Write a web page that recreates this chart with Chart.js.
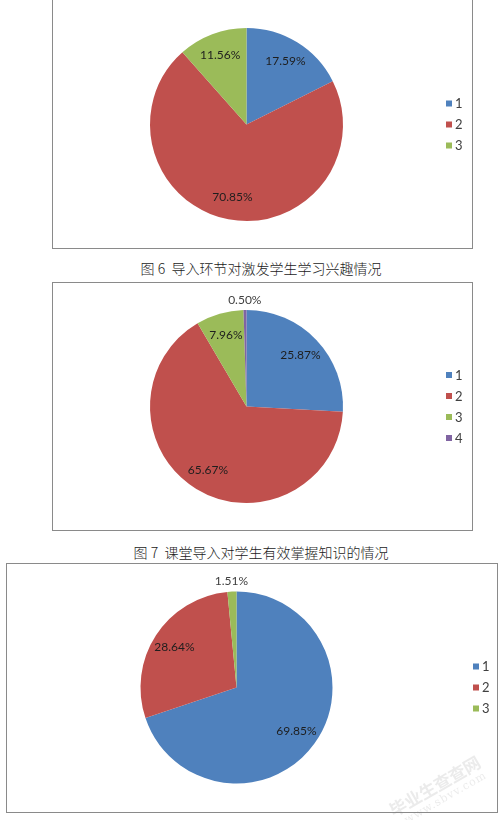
<!DOCTYPE html>
<html>
<head>
<meta charset="utf-8">
<script src="https://cdn.jsdelivr.net/npm/chart.js@4/dist/chart.umd.min.js"></script>
<style>
  html, body { margin: 0; padding: 0; background: #ffffff; }
  body { width: 501px; height: 820px; position: relative; overflow: hidden; }
  .box { position: absolute; border: 1px solid #8a8a8a; background: #fff; }
  .box canvas { display: block; }
  .cap { position: absolute; left: 61px; width: 400px; text-align: center;
         font-family: "Noto Sans CJK SC", sans-serif; font-weight: 300; font-size: 14px; line-height: 18px; color: #1a1a1a; white-space: pre; }
  .wm { position: absolute; color: rgba(130,130,130,0.16); font-family: "Noto Sans CJK SC", sans-serif;
        transform-origin: left top; white-space: nowrap; }
</style>
</head>
<body>
<div class="box" id="b1" style="left:52px; top:-1px; width:419px; height:248px;"><canvas id="c1"></canvas></div>
<div class="cap" id="cap1" style="top:259px;"></div>
<div class="box" id="b2" style="left:52px; top:282px; width:419px; height:247px;"><canvas id="c2"></canvas></div>
<div class="cap" id="cap2" style="top:543px;"></div>
<div class="box" id="b3" style="left:6px; top:563px; width:490px; height:248px;"><canvas id="c3"></canvas></div>
<div class="wm" style="left:384px; top:800px; transform: rotate(-30deg); font-size:17px; font-weight:bold; letter-spacing:0px;">毕业生查查网</div>
<div class="wm" style="left:402px; top:815px; transform: rotate(-30deg); font-size:11px; font-family:'DejaVu Serif',serif; letter-spacing:1px;">www.sbvv.com</div>
<script>
// ---- data ----
const categories1 = ['1', '2', '3'];
const values1 = [17.59, 70.85, 11.56];

const categories2 = ['1', '2', '3', '4'];
const values2 = [25.87, 65.67, 7.96, 0.50];

const categories3 = ['1', '2', '3'];
const values3 = [69.85, 28.64, 1.51];

const captions = ['图 6  导入环节对激发学生学习兴趣情况', '图 7  课堂导入对学生有效掌握知识的情况'];

const palette = ['#4F81BD', '#C0504D', '#9BBB59', '#8064A2'];

document.getElementById('cap1').textContent = captions[0];
document.getElementById('cap2').textContent = captions[1];

// percentage labels drawn from arc geometry
const pieLabels = {
  id: 'pieLabels',
  afterDatasetsDraw(chart) {
    const ctx = chart.ctx;
    const meta = chart.getDatasetMeta(0);
    const vals = chart.data.datasets[0].data;
    ctx.save();
    ctx.font = '12px Lato, "Liberation Sans", sans-serif';
    ctx.textAlign = 'center';
    ctx.textBaseline = 'middle';
    meta.data.forEach((arc, i) => {
      const p = arc.getProps(['x', 'y', 'startAngle', 'endAngle', 'outerRadius'], true);
      const mid = (p.startAngle + p.endAngle) / 2;
      const v = vals[i];
      const outside = v < 3;
      const d = outside ? p.outerRadius + 10 : p.outerRadius * 0.77;
      ctx.fillStyle = outside ? '#404040' : '#1e1e1e';
      ctx.fillText(v.toFixed(2) + '%', p.x + Math.cos(mid) * d, p.y + Math.sin(mid) * d);
    });
    ctx.restore();
  }
};

// legend drawn at right, vertically centred on the pie
const sideLegend = {
  id: 'sideLegend',
  afterDraw(chart, args, opts) {
    const ctx = chart.ctx;
    const meta = chart.getDatasetMeta(0);
    const cy = meta.data[0].y;
    const labels = chart.data.labels;
    const colors = chart.data.datasets[0].backgroundColor;
    const step = 21;
    const y0 = cy - (labels.length - 1) * step / 2;
    ctx.save();
    ctx.font = '13px Lato, "Liberation Sans", sans-serif';
    ctx.textBaseline = 'middle';
    ctx.textAlign = 'left';
    labels.forEach((lab, i) => {
      const y = y0 + i * step;
      ctx.fillStyle = colors[i];
      ctx.fillRect(opts.x, y - 3, 6, 6);
      ctx.fillStyle = '#404040';
      ctx.fillText(lab, opts.x + 9, y + 0.5);
    });
    ctx.restore();
  }
};

function makePie(id, cats, vals, w, h, cx, cy, r, legendX) {
  const el = document.getElementById(id);
  el.width = w; el.height = h;
  el.style.width = w + 'px'; el.style.height = h + 'px';
  return new Chart(el, {
    type: 'pie',
    data: {
      labels: cats,
      datasets: [{
        data: vals,
        backgroundColor: palette.slice(0, vals.length),
        borderWidth: 0,
        hoverOffset: 0,
        offset: 0
      }]
    },
    options: {
      responsive: false,
      animation: false,
      devicePixelRatio: 1,
      layout: { padding: { left: cx - r, top: cy - r, right: w - (cx + r), bottom: h - (cy + r) } },
      plugins: {
        legend: { display: false },
        tooltip: { enabled: false },
        sideLegend: { x: legendX }
      }
    },
    plugins: [pieLabels, sideLegend]
  });
}

makePie('c1', categories1, values1, 419, 248, 193.5, 124.5, 96.5, 393);
makePie('c2', categories2, values2, 419, 247, 193.5, 123.5, 96.5, 393);
makePie('c3', categories3, values3, 490, 248, 229.5, 123.5, 96, 466);
</script>
</body>
</html>
